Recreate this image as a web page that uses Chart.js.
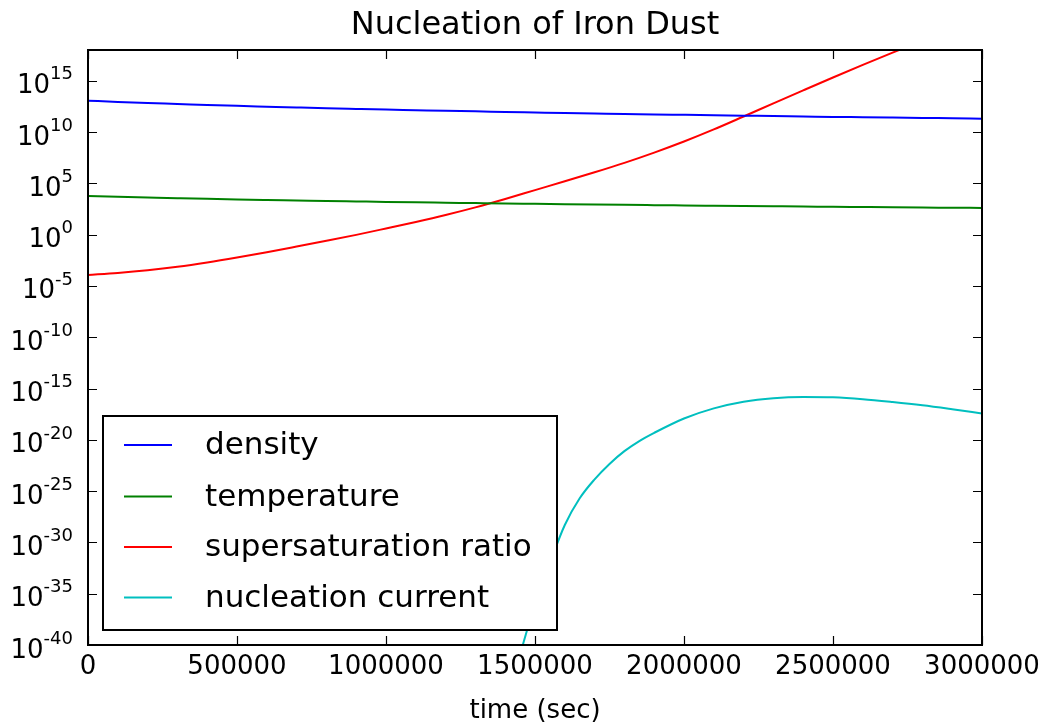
<!DOCTYPE html>
<html>
<head>
<meta charset="utf-8">
<script src="https://cdn.jsdelivr.net/npm/chart.js@4/dist/chart.umd.min.js"></script>
<style>
  html, body { margin: 0; padding: 0; background: #ffffff; }
  #wrap { width: 1044px; height: 726px; }
</style>
</head>
<body>
<div id="wrap"><canvas id="c" width="1044" height="726"></canvas></div>
<script>
// ---- data ----
const timeSec = [0, 100000, 200000, 300000, 400000, 500000, 600000, 700000, 800000, 900000,
  1000000, 1100000, 1200000, 1300000, 1400000, 1500000, 1600000, 1700000, 1800000, 1900000,
  2000000, 2100000, 2200000, 2300000, 2400000, 2500000, 2600000, 2700000, 2800000, 2900000, 3000000];

const density = [1.15e13, 8.7e12, 6.8e12, 5.5e12, 4.4e12, 3.6e12, 3.0e12, 2.5e12, 2.1e12, 1.8e12,
  1.55e12, 1.35e12, 1.17e12, 1.05e12, 9.1e11, 8.1e11, 7.2e11, 6.5e11, 5.9e11, 5.2e11,
  4.8e11, 4.4e11, 4.0e11, 3.6e11, 3.3e11, 3.0e11, 2.8e11, 2.6e11, 2.4e11, 2.2e11, 2.04e11];

const temperature = [5900, 4900, 4200, 3600, 3100, 2700, 2400, 2150, 1920, 1730,
  1560, 1420, 1300, 1190, 1090, 1010, 935, 870, 810, 755,
  705, 660, 620, 585, 555, 520, 495, 470, 445, 420, 400];

const supersaturation = [1.17e-4, 1.86e-4, 3.4e-4, 7.4e-4, 1.95e-3, 5.9e-3, 1.95e-2, 6.9e-2, 0.25, 0.95,
  4.0, 17.4, 83, 457, 3.0e3, 2.2e4, 1.58e5, 1.2e6, 1.0e7, 1.0e8,
  1.2e9, 1.8e10, 3.3e11, 6.3e12, 1.17e14, 2.1e15, 3.5e16, 5.5e17, 8.3e18, 1.23e20, 1.8e21];

const nucleationTime = [1420000, 1460000, 1500000, 1550000, 1600000, 1650000, 1700000, 1750000,
  1800000, 1850000, 1900000, 2000000, 2100000, 2200000, 2300000, 2400000, 2500000, 2600000,
  2700000, 2800000, 2900000, 3000000];
const nucleation = [1e-44, 1.26e-40, 1e-36, 1e-32, 5.0e-29, 2.0e-26, 1.41e-24, 4.5e-23,
  7.9e-22, 7.6e-21, 4.8e-20, 1.2e-18, 1.17e-17, 5.2e-17, 1.15e-16, 1.5e-16, 1.38e-16, 9.1e-17,
  4.8e-17, 2.3e-17, 9.5e-18, 3.7e-18];

const seriesNames = ['density', 'temperature', 'supersaturation ratio', 'nucleation current'];
const seriesColors = ['#0000ff', '#008000', '#ff0000', '#00bfbf'];

const xTickValues = [0, 500000, 1000000, 1500000, 2000000, 2500000, 3000000];
const xTickLabels = ['0', '500000', '1000000', '1500000', '2000000', '2500000', '3000000'];
const yTickBase = '10';
const yTickExponents = [-40, -35, -30, -25, -20, -15, -10, -5, 0, 5, 10, 15];

const titleText = 'Nucleation of Iron Dust';
const xAxisTitle = 'time (sec)';

// ---- chart ----
const FONT = "'DejaVu Sans', 'Liberation Sans', sans-serif";
Chart.defaults.font.family = FONT;
Chart.defaults.color = '#000000';

const seriesPoints = [
  timeSec.map((t, i) => ({ x: t, y: density[i] })),
  timeSec.map((t, i) => ({ x: t, y: temperature[i] })),
  timeSec.map((t, i) => ({ x: t, y: supersaturation[i] })),
  nucleationTime.map((t, i) => ({ x: t, y: nucleation[i] }))
];
const datasets = seriesPoints.map((pts, k) => ({
  label: seriesNames[k],
  data: pts,
  borderColor: seriesColors[k],
  backgroundColor: seriesColors[k],
  borderWidth: 2,
  pointRadius: 0,
  fill: false,
  cubicInterpolationMode: 'monotone'
}));

const framePlugin = {
  id: 'mplFrame',
  afterDatasetsDraw(chart) {
    const { ctx, chartArea: a, scales } = chart;
    const xs = scales.x, ys = scales.y;
    ctx.save();
    // inward ticks on all four sides
    ctx.strokeStyle = '#000';
    ctx.lineWidth = 1.2;
    const L = 9;
    ctx.beginPath();
    xs.ticks.forEach(t => {
      const px = Math.round(xs.getPixelForValue(t.value)) + 0.5;
      ctx.moveTo(px, a.bottom); ctx.lineTo(px, a.bottom - L);
      ctx.moveTo(px, a.top); ctx.lineTo(px, a.top + L);
    });
    ys.ticks.forEach(t => {
      const py = Math.round(ys.getPixelForValue(t.value)) + 0.5;
      ctx.moveTo(a.left, py); ctx.lineTo(a.left + L, py);
      ctx.moveTo(a.right, py); ctx.lineTo(a.right - L, py);
    });
    ctx.stroke();
    // frame
    ctx.lineWidth = 2;
    ctx.strokeRect(a.left, a.top, a.right - a.left, a.bottom - a.top);

    // y tick labels: 10 with raised exponent (mathtext style)
    ctx.fillStyle = '#000';
    ctx.textAlign = 'left';
    ctx.textBaseline = 'alphabetic';
    ys.ticks.forEach(t => {
      const e = Math.round(Math.log10(t.value));
      if (yTickExponents.indexOf(e) < 0) return;
      const expText = String(e);
      const py = ys.getPixelForValue(t.value);
      ctx.font = '26px ' + FONT;
      const bw = ctx.measureText(yTickBase).width;
      ctx.font = '18px ' + FONT;
      const ew = ctx.measureText(expText).width;
      const x0 = a.left - 15 - bw - ew;
      ctx.font = '26px ' + FONT;
      ctx.fillText(yTickBase, x0, py + 12.5);
      ctx.font = '18px ' + FONT;
      ctx.fillText(expText, x0 + bw, py - 1.3);
    });

    // legend (lower left, inside axes)
    const bw = 454, bh = 214;
    const bx = a.left + 15, by = a.bottom - 15 - bh;
    ctx.fillStyle = '#ffffff';
    ctx.fillRect(bx, by, bw, bh);
    ctx.lineWidth = 2;
    ctx.strokeStyle = '#000';
    ctx.strokeRect(bx, by, bw, bh);
    const rows = [29, 80.5, 131, 181.5];
    ctx.font = "31px " + FONT;
    ctx.textAlign = 'left';
    ctx.textBaseline = 'middle';
    chart.data.datasets.forEach((ds, i) => {
      const ry = by + rows[i];
      ctx.strokeStyle = ds.borderColor;
      ctx.lineWidth = 2;
      ctx.beginPath();
      ctx.moveTo(bx + 21, ry); ctx.lineTo(bx + 69, ry);
      ctx.stroke();
      ctx.fillStyle = '#000';
      ctx.fillText(ds.label, bx + 102, ry + 1);
    });
    ctx.restore();
  }
};

new Chart(document.getElementById('c'), {
  type: 'line',
  data: { datasets },
  options: {
    responsive: false,
    animation: false,
    devicePixelRatio: 1,
    layout: { padding: { left: 0, right: 62, top: 0, bottom: 0 } },
    plugins: {
      legend: { display: false },
      tooltip: { enabled: false },
      title: {
        display: true,
        text: titleText,
        fullSize: false,
        color: '#000',
        font: { size: 32, weight: 'normal', family: FONT, lineHeight: 1.2 },
        padding: { top: 6, bottom: 5.6 }
      }
    },
    scales: {
      x: {
        type: 'linear',
        min: 0,
        max: 3000000,
        afterBuildTicks: (scale) => { scale.ticks = xTickValues.map(v => ({ value: v })); },
        afterFit: (scale) => { scale.height = 81; scale.paddingLeft = 0; scale.paddingRight = 0; },
        ticks: {
          autoSkip: false,
          maxRotation: 0,
          padding: 7,
          color: '#000',
          font: { size: 26, family: FONT },
          callback: (v) => { const i = xTickValues.indexOf(v); return i >= 0 ? xTickLabels[i] : ''; }
        },
        grid: { display: false, drawTicks: false },
        border: { display: false },
        title: {
          display: true,
          text: xAxisTitle,
          color: '#000',
          font: { size: 26, family: FONT, lineHeight: 1.0 },
          padding: { top: 0, bottom: 1.5 }
        }
      },
      y: {
        type: 'logarithmic',
        min: 1e-40,
        max: 1e18,
        afterBuildTicks: (scale) => { scale.ticks = yTickExponents.map(e => ({ value: Number('1e' + e) })); },
        afterFit: (scale) => { scale.width = 88; scale.paddingTop = 0; scale.paddingBottom = 0; },
        ticks: { display: false, autoSkip: false },
        grid: { display: false, drawTicks: false },
        border: { display: false }
      }
    }
  },
  plugins: [framePlugin]
});
</script>
</body>
</html>
